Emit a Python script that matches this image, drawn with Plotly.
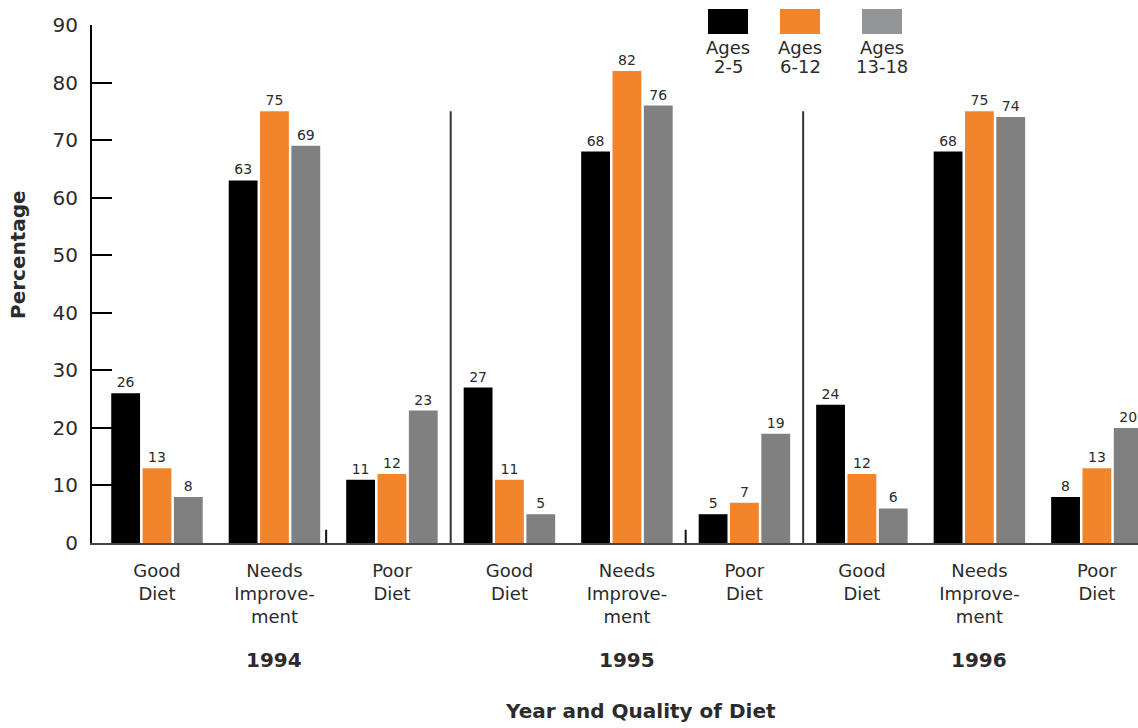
import plotly.graph_objects as go

categories = ["Good<br>Diet", "Needs<br>Improve-<br>ment", "Poor<br>Diet"] * 3
years = ["1994", "1995", "1996"]
legend_top = ["Ages", "Ages", "Ages"]
legend_bottom = ["2-5", "6-12", "13-18"]
ages_2_5 = [26, 63, 11, 27, 68, 5, 24, 68, 8]
ages_6_12 = [13, 75, 12, 11, 82, 7, 12, 75, 13]
ages_13_18 = [8, 69, 23, 5, 76, 19, 6, 74, 20]
y_ticks = [0, 10, 20, 30, 40, 50, 60, 70, 80, 90]

bar_colors = ["#000000", "#F2842C", "#808080"]
legend_colors = ["#000000", "#F2842C", "#939598"]
TXT = "#2b2b2b"
FONT = "DejaVu Sans"

FW, FH = 1138, 728
L, T, H = 92, 25, 518
W = FW - L

def px_x(p):
    return (p - L) / W

def px_y(p):
    return (T + H - p) / H

x = list(range(len(categories)))
fig = go.Figure()
for n1, n2, vals, col in zip(legend_top, legend_bottom,
                             [ages_2_5, ages_6_12, ages_13_18], bar_colors):
    fig.add_trace(go.Bar(
        x=x, y=vals, name=n1 + " " + n2, marker_color=col, marker_line_width=0,
        text=[str(v) for v in vals], textposition="outside",
        textfont=dict(size=14, color=TXT, family=FONT), cliponaxis=False,
        showlegend=False,
    ))

shapes = []
for sx in [2.5, 5.5]:
    shapes.append(dict(type="line", xref="x", yref="y", x0=sx, x1=sx, y0=0, y1=75,
                       line=dict(color="#333333", width=2)))
for sx in [1.44, 4.5]:
    shapes.append(dict(type="line", xref="x", yref="y", x0=sx, x1=sx, y0=0, y1=2.3,
                       line=dict(color="#111111", width=2)))

legend_x = [728, 800, 882]
annotations = []
for cx, col, n1, n2 in zip(legend_x, legend_colors, legend_top, legend_bottom):
    shapes.append(dict(type="rect", xref="paper", yref="paper",
                       x0=px_x(cx - 20), x1=px_x(cx + 20), y0=px_y(34), y1=px_y(9),
                       fillcolor=col, line=dict(width=0)))
    annotations.append(dict(xref="paper", yref="paper", x=px_x(cx), y=px_y(47),
                            text=n1, showarrow=False, xanchor="center", yanchor="middle",
                            font=dict(size=18, color=TXT, family=FONT)))
    annotations.append(dict(xref="paper", yref="paper", x=px_x(cx), y=px_y(67),
                            text=n2, showarrow=False, xanchor="center", yanchor="middle",
                            font=dict(size=18, color=TXT, family=FONT)))

for i, yr in enumerate(years):
    annotations.append(dict(xref="x", yref="paper", x=3 * i + 1, y=px_y(660),
                            text="<b>" + yr + "</b>", showarrow=False,
                            xanchor="center", yanchor="middle",
                            font=dict(size=20, color=TXT, family=FONT)))

annotations.append(dict(xref="paper", yref="paper", x=px_x(640), y=px_y(711),
                        text="<b>Year and Quality of Diet</b>", showarrow=False,
                        xanchor="center", yanchor="middle",
                        font=dict(size=20, color=TXT, family=FONT)))
annotations.append(dict(xref="paper", yref="paper", x=px_x(18), y=px_y(255),
                        text="<b>Percentage</b>", showarrow=False, textangle=-90,
                        xanchor="center", yanchor="middle",
                        font=dict(size=20, color=TXT, family=FONT)))

fig.update_layout(
    width=FW, height=FH,
    margin=dict(l=L, r=0, t=T, b=FH - T - H),
    plot_bgcolor="white", paper_bgcolor="white",
    barmode="group", bargap=0.2, bargroupgap=0.08,
    shapes=shapes, annotations=annotations,
    font=dict(family=FONT, color=TXT),
)
fig.update_xaxes(
    range=[-0.553, 8.35], tickmode="array", tickvals=x, ticktext=categories,
    ticks="", showline=True, linecolor="#444444", linewidth=2,
    tickfont=dict(size=18, color=TXT, family=FONT), showgrid=False, zeroline=False,
    ticklabelstandoff=10,
)
fig.update_yaxes(
    range=[0, 90], tickmode="array", tickvals=y_ticks,
    ticks="inside", ticklen=20, tickwidth=2, tickcolor="#000000",
    showline=True, linecolor="#000000", linewidth=2,
    tickfont=dict(size=20, color=TXT, family=FONT), showgrid=False, zeroline=False,
    ticklabelstandoff=8,
)

fig.write_html(
    "out.html",
    config={"displayModeBar": False},
    post_script="document.body.style.margin='0';document.body.style.overflow='hidden';",
)
